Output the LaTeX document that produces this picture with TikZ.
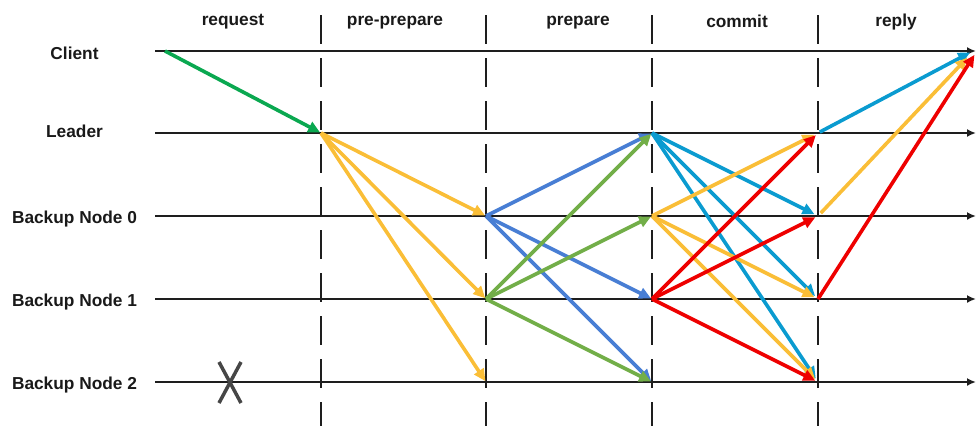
\documentclass[tikz,border=0pt]{standalone}
\usepackage{fontspec}
\setmainfont{Liberation Sans}
\usetikzlibrary{arrows.meta}
\definecolor{reqgreen}{RGB}{10,168,80}
\definecolor{ppyellow}{RGB}{250,190,55}
\definecolor{pblue}{RGB}{72,126,212}
\definecolor{pgreen}{RGB}{114,174,72}
\definecolor{ccyan}{RGB}{10,155,208}
\definecolor{cred}{RGB}{238,0,0}
\definecolor{lanecol}{RGB}{30,30,30}
\definecolor{xgray}{RGB}{70,70,70}
\tikzset{
  lane/.style={draw=lanecol, line width=2pt, -{Latex[length=9pt,width=8pt]}},
  phaseline/.style={draw=lanecol, line width=2.2pt, dash pattern=on 29pt off 14pt},
  lbl/.style={font=\fontsize{17.3}{19}\selectfont\bfseries, text={rgb,255:red,25;green,25;blue,25}},
  msg/.style={line width=3.6pt, -{Triangle[length=12pt,width=11pt]}, shorten >=1pt},
}
\begin{document}
\begin{tikzpicture}[x=1pt,y=-1pt]
\useasboundingbox (0,0) rectangle (976,426);
% lane coordinates
\foreach \n/\y in {C/51,L/133,B0/216,B1/299,B2/382}{
  \coordinate (\n-s) at (155,\y);
  \coordinate (\n-e) at (976,\y);
  \coordinate (\n-1) at (321,\y);
  \coordinate (\n-2) at (486,\y);
  \coordinate (\n-3) at (652,\y);
  \coordinate (\n-4) at (818,\y);
}
\coordinate (C-0) at (165,51);
\coordinate (C-5a) at (971,52);
\coordinate (C-5b) at (968,57);
\coordinate (C-5c) at (975,54);
\foreach \i/\x in {1/321,2/486,3/652,4/818}{
  \coordinate (v\i-t) at (\x,15);
  \coordinate (v\i-b) at (\x,426);
}
% lane labels
\node[lbl] (nC) at (74.5,53.5) {Client};
\node[lbl] (nL) at (74.5,131.5) {Leader};
\node[lbl] (nB0) at (74.5,219.5) {Backup Node 0};
\node[lbl] (nB1) at (74.5,302.5) {Backup Node 1};
\node[lbl] (nB2) at (74.5,385.5) {Backup Node 2};
% phase labels
\node[lbl] (p1) at (233,22) {request};
\node[lbl] (p2) at (395,23) {pre-prepare};
\node[lbl] (p3) at (578,23) {prepare};
\node[lbl] (p4) at (737,21) {commit};
\node[lbl] (p5) at (896,22) {reply};
% lanes
\foreach \n in {C,L,B0,B1,B2}{\draw[lane] (\n-s) -- (\n-e);}
% phase separators
\foreach \i in {1,2,3,4}{\draw[phaseline] (v\i-t) -- (v\i-b);}
% crashed node
\coordinate (x1) at (219,362);
\coordinate (x2) at (241,403);
\coordinate (x3) at (241,362);
\coordinate (x4) at (219,403);
\draw[xgray, line width=3.5pt] (x1) -- (x2) (x3) -- (x4);
% request
\draw[msg, reqgreen] (C-0) -- (L-1);
% pre-prepare
\foreach \t in {B0,B1,B2}{\draw[msg, ppyellow] (L-1) -- (\t-2);}
% prepare
\foreach \t in {L,B1,B2}{\draw[msg, pblue] (B0-2) -- (\t-3);}
\foreach \t in {L,B0,B2}{\draw[msg, pgreen] (B1-2) -- (\t-3);}
% commit
\foreach \t in {B0,B1,B2}{\draw[msg, ccyan, shorten >=4pt] (L-3) -- (\t-4);}
\foreach \t in {L,B1,B2}{\draw[msg, ppyellow, shorten >=4pt] (B0-3) -- (\t-4);}
\foreach \t in {L,B0,B2}{\draw[msg, cred, shorten >=3pt] (B1-3) -- (\t-4);}
% reply
\draw[msg, ccyan, shorten <=2pt] (L-4) -- (C-5a);
\draw[msg, ppyellow, shorten <=4pt] (B0-4) -- (C-5b);
\draw[msg, cred] (B1-4) -- (C-5c);
\end{tikzpicture}
\end{document}
